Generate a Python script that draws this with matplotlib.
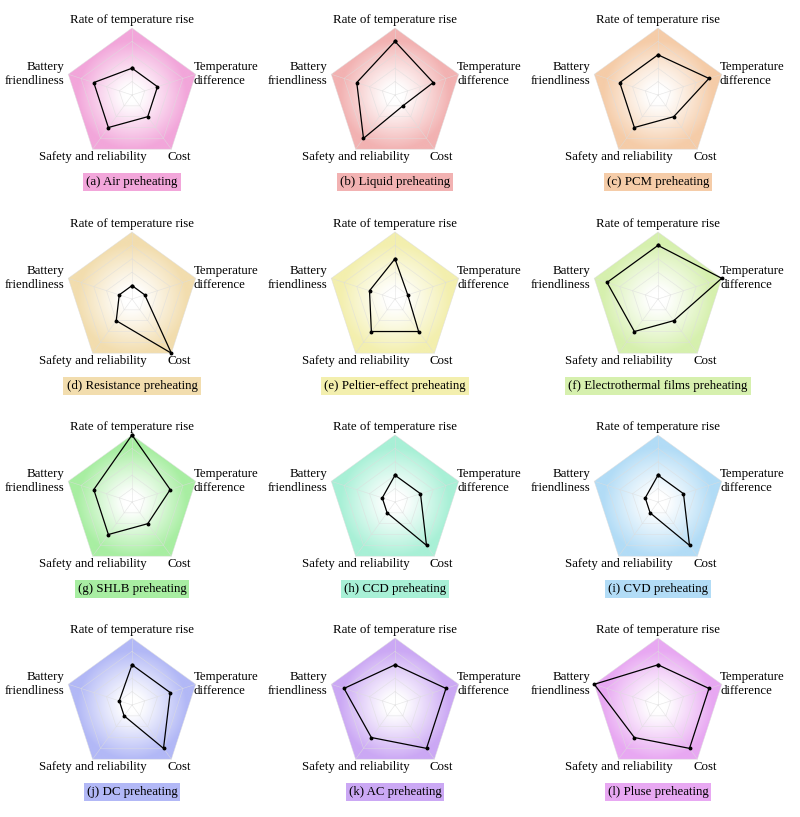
import numpy as np
import matplotlib
matplotlib.use("Agg")
import matplotlib.pyplot as plt
from matplotlib.colors import LinearSegmentedColormap
from matplotlib.patches import Polygon

plt.rcParams['font.family'] = ['Liberation Serif', 'DejaVu Serif']

axis_labels = ["Rate of temperature rise", "Temperature\ndifference", "Cost",
               "Safety and reliability", "Battery\nfriendliness"]

captions = ["(a) Air preheating", "(b) Liquid preheating", "(c) PCM preheating",
            "(d) Resistance preheating", "(e) Peltier-effect preheating",
            "(f) Electrothermal films preheating", "(g) SHLB preheating",
            "(h) CCD preheating", "(i) CVD preheating", "(j) DC preheating",
            "(k) AC preheating", "(l) Pluse preheating"]

# order: rate, temp diff, cost, safety, battery
air = [2, 2, 2, 3, 3]
liquid = [4, 3, 1, 4, 3]
pcm = [3, 4, 2, 3, 3]
resistance = [1, 1, 5, 2, 1]
peltier = [3, 1, 3, 3, 2]
films = [4, 5, 2, 3, 4]
shlb = [5, 3, 2, 3, 3]
ccd = [2, 2, 4, 1, 1]
cvd = [2, 2, 4, 1, 1]
dc = [3, 3, 4, 1, 1]
ac = [3, 4, 4, 3, 4]
pulse = [3, 4, 4, 3, 5]
series = [air, liquid, pcm, resistance, peltier, films, shlb, ccd, cvd, dc, ac, pulse]

colors = ["#F2A6DA", "#F2B2B2", "#F5CCA8", "#F2DDAE", "#F3EFAE", "#D6F0AE",
          "#A8EEA2", "#A8F0D6", "#B2DCF6", "#B2B8F6", "#CBA8F4", "#E8A8F2"]

MAXV = 5
K = 13.4  # px per unit
W, H = 800, 817
centers_x = [132, 395, 658]
centers_y = [95, 299, 502, 705]

ang = np.deg2rad(90 - 72 * np.arange(5))
ux, uy = np.cos(ang), np.sin(ang)

fig = plt.figure(figsize=(8, 8.17), dpi=100)

for i, (vals, cap, col) in enumerate(zip(series, captions, colors)):
    cx = centers_x[i % 3]
    cy = centers_y[i // 3]
    aw, ah = 260, 200
    ax = fig.add_axes([(cx - aw / 2) / W, 1 - (cy + ah / 2) / H, aw / W, ah / H])
    ax.set_xlim(-aw / 2 / K, aw / 2 / K)
    ax.set_ylim(-ah / 2 / K, ah / 2 / K)
    ax.axis('off')

    # gradient fill clipped to outer pentagon
    outer = Polygon(np.column_stack([ux, uy]) * MAXV, closed=True, facecolor='none',
                    edgecolor='none', transform=ax.transData)
    ax.add_patch(outer)
    g = np.linspace(-MAXV, MAXV, 300)
    gx, gy = np.meshgrid(g, g)
    t = np.clip((np.hypot(gx, gy) - 0.6) / 3.5, 0, 1) ** 1.1
    cmap = LinearSegmentedColormap.from_list("c%d" % i, ["white", col])
    im = ax.imshow(t, cmap=cmap, extent=[-MAXV, MAXV, -MAXV, MAXV], origin='lower',
                   vmin=0, vmax=1, interpolation='bilinear', zorder=1)
    im.set_clip_path(outer)

    # grid rings and spokes
    for lv in range(1, MAXV + 1):
        ax.plot(np.append(ux, ux[0]) * lv, np.append(uy, uy[0]) * lv,
                color='#dddddd', lw=0.45, alpha=0.7, zorder=2)
    for k in range(5):
        ax.plot([0, ux[k] * MAXV], [0, uy[k] * MAXV], color='#dddddd', lw=0.45,
                alpha=0.7, zorder=2)

    v = np.array(vals, dtype=float)
    px = np.append(ux * v, ux[0] * v[0])
    py = np.append(uy * v, uy[0] * v[0])
    ax.plot(px, py, color='black', lw=0.9, marker='o', ms=1.8, zorder=3)

    fs = 9.3
    ax.text(0, 75 / K, axis_labels[0], ha='center', va='center', fontsize=fs)
    ax.text(62 / K, 21 / K, axis_labels[1], ha='left', va='center', fontsize=fs,
            multialignment='left', linespacing=1.25)
    ax.text(35 / K, -62 / K, axis_labels[2], ha='left', va='center', fontsize=fs)
    ax.text(15 / K, -62 / K, axis_labels[3], ha='right', va='center', fontsize=fs)
    ax.text(-68 / K, 21 / K, axis_labels[4], ha='right', va='center', fontsize=fs,
            multialignment='right', linespacing=1.25)
    ax.text(0, -87 / K, cap, ha='center', va='center', fontsize=fs,
            bbox=dict(facecolor=col, edgecolor='none', pad=2.2))

fig.savefig("out.png", dpi=100)
